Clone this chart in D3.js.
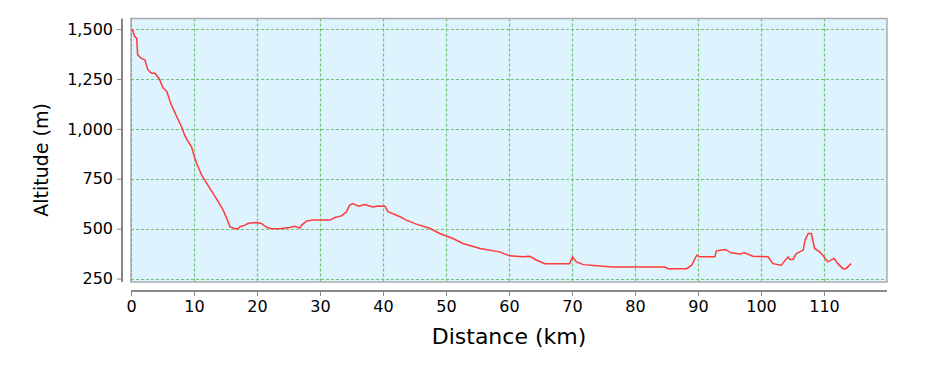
<!DOCTYPE html>
<html>
<head>
<meta charset="utf-8">
<script src="https://cdn.jsdelivr.net/npm/d3@7"></script>
<style>
  body { margin: 0; background: #fff; }
  text { font-family: "DejaVu Sans", sans-serif; fill: #000; }
</style>
</head>
<body>
<svg id="chart" width="928" height="368"></svg>
<script>
// Distance (km) and altitude (m)
const distance = [0.2, 0.4, 0.6, 0.9, 1.05, 1.4, 1.7, 2.2, 2.65, 3.0, 3.3, 3.8, 4.5, 5.1, 5.7, 6.2, 6.7, 7.25, 8.0, 8.6,
  9.1, 9.6, 9.8, 10.4, 11.2, 12.0, 13.0, 13.85, 14.6, 15.2, 15.7, 16.5, 17.0, 17.3, 18.1, 18.6, 19.9, 20.7, 21.5, 22.3,
  23.6, 25.2, 26.0, 26.8, 27.1, 27.9, 28.9, 31.6, 32.4, 33.4, 34.2, 34.7, 35.2, 36.1, 37.1, 38.4, 39.2, 40.3, 40.8, 42.7,
  43.7, 45.3, 47.4, 49.0, 51.1, 52.7, 55.4, 58.5, 60.1, 62.2, 63.3, 64.4, 65.7, 69.6, 70.1, 70.7, 71.8, 74.4, 76.5, 84.7,
  85.3, 88.2, 89.0, 89.8, 90.3, 92.7, 92.9, 94.3, 95.3, 96.6, 97.4, 98.7, 101.1, 101.9, 103.2, 104.3, 104.6, 105.1, 105.6, 106.7,
  107.0, 107.5, 108.0, 108.5, 109.3, 109.8, 110.6, 111.6, 112.2, 113.0, 113.5, 114.3];
const altitude = [1500, 1480, 1462, 1455, 1372, 1360, 1352, 1346, 1298, 1285, 1279, 1279, 1250, 1205, 1187, 1137, 1100, 1062, 1012, 962,
  935, 912, 888, 828, 770, 728, 678, 636, 594, 552, 510, 500, 500, 510, 518, 527, 531, 526, 507, 500,
  500, 506, 512, 503, 518, 539, 543, 543, 556, 564, 584, 618, 626, 613, 621, 609, 614, 613, 585, 560,
  543, 523, 502, 476, 451, 426, 401, 384, 364, 359, 362, 342, 325, 325, 359, 334, 320, 313, 308, 308,
  300, 300, 317, 367, 359, 359, 389, 396, 379, 373, 379, 362, 359, 325, 317, 359, 346, 346, 376, 393,
  443, 476, 476, 401, 384, 367, 334, 351, 325, 300, 300, 325];

const xTicks = [0, 10, 20, 30, 40, 50, 60, 70, 80, 90, 100, 110];
const yTicks = [250, 500, 750, 1000, 1250, 1500];

const data = distance.map((d, i) => ({km: d, alt: altitude[i]}));

const svg = d3.select("#chart");
const plot = {left: 131, right: 887, top: 18.5, bottom: 282};

const x = d3.scaleLinear().domain([0, 120]).range([plot.left, plot.right]);
const y = d3.scaleLinear().domain([233, 1553]).range([plot.bottom, plot.top]);

// plot background
svg.append("rect")
  .attr("x", plot.left).attr("y", plot.top)
  .attr("width", plot.right - plot.left).attr("height", plot.bottom - plot.top)
  .attr("fill", "#ddf3fd");

// gridlines
svg.append("g").selectAll("line").data(yTicks).join("line")
  .attr("x1", plot.left).attr("x2", plot.right)
  .attr("y1", d => Math.round(y(d)) + 0.5).attr("y2", d => Math.round(y(d)) + 0.5)
  .attr("stroke", "#74c274").attr("stroke-width", 1.2).attr("stroke-dasharray", "3,2");

svg.append("g").selectAll("line").data(xTicks.slice(1)).join("line")
  .attr("x1", d => Math.round(x(d)) + 0.5).attr("x2", d => Math.round(x(d)) + 0.5)
  .attr("y1", plot.top).attr("y2", plot.bottom)
  .attr("stroke", "#74c274").attr("stroke-width", 1.2).attr("stroke-dasharray", "3,2");

// zero marker
svg.append("line")
  .attr("x1", x(0) + 0.5).attr("x2", x(0) + 0.5)
  .attr("y1", plot.top).attr("y2", plot.bottom)
  .attr("stroke", "#3a4f9a").attr("stroke-dasharray", "3,2");

// plot border
svg.append("rect")
  .attr("x", plot.left).attr("y", plot.top)
  .attr("width", plot.right - plot.left).attr("height", plot.bottom - plot.top)
  .attr("fill", "none").attr("stroke", "#aaaaaa").attr("stroke-width", 1.5);

// profile line
const line = d3.line()
  .x(d => x(d.km))
  .y(d => y(d.alt));

svg.append("path")
  .datum(data)
  .attr("d", line)
  .attr("fill", "none")
  .attr("stroke", "#ff3b3b")
  .attr("stroke-width", 1.5);

// Y axis
const yAxis = svg.append("g")
  .attr("transform", "translate(122,0)")
  .call(d3.axisLeft(y).tickValues(yTicks).tickFormat(d3.format(",")).tickSize(5).tickPadding(4).tickSizeOuter(0));
yAxis.select(".domain").attr("stroke", "#888").attr("stroke-width", 2)
  .attr("d", `M0,${plot.top}V${plot.bottom}`);
yAxis.selectAll(".tick line").attr("stroke", "#888");
yAxis.selectAll("text").style("font-size", "16px").attr("fill", "#000");

// X axis
const xAxis = svg.append("g")
  .attr("transform", "translate(0,291)")
  .call(d3.axisBottom(x).tickValues(xTicks).tickSize(5).tickPadding(5).tickSizeOuter(0));
xAxis.select(".domain").attr("stroke", "#888").attr("stroke-width", 2)
  .attr("d", `M${plot.left},0H${plot.right}`);
xAxis.selectAll(".tick line").attr("stroke", "#888");
xAxis.selectAll("text").style("font-size", "16px").attr("fill", "#000");

// axis titles
svg.append("text")
  .attr("x", 509).attr("y", 344)
  .attr("text-anchor", "middle")
  .style("font-size", "22px")
  .text("Distance (km)");

svg.append("text")
  .attr("transform", "translate(48,160) rotate(-90)")
  .attr("text-anchor", "middle")
  .style("font-size", "19px")
  .text("Altitude (m)");
</script>
</body>
</html>
